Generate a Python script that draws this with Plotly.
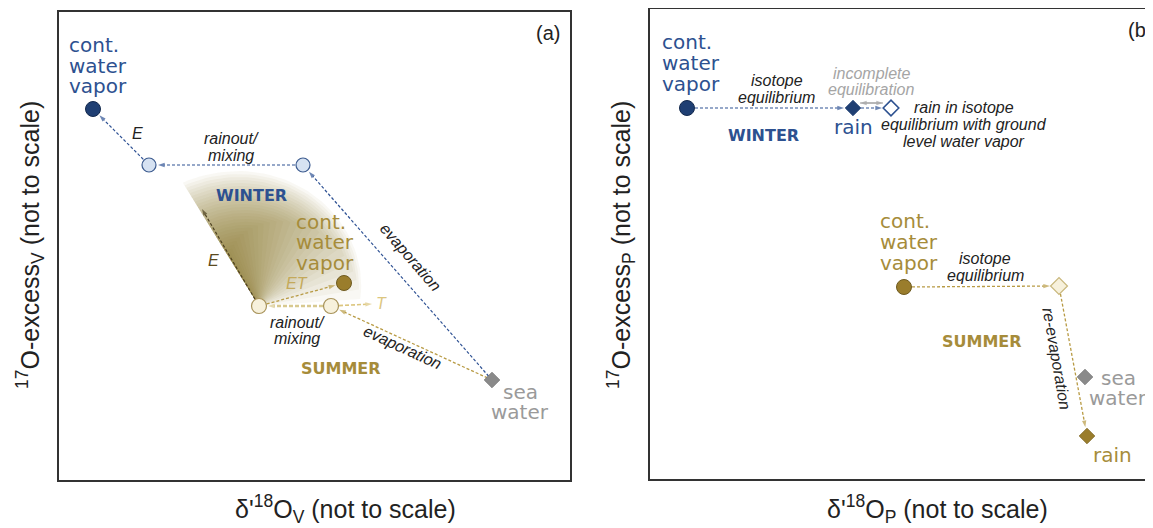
import numpy as np
import plotly.graph_objects as go

# the page puts the figure 8 px in from the window corner, so work in window px
OFF = 8
W, H = 1153 - OFF, 528 - OFF

# Colours
NAVY = "#1f3f73"
BLUE_TXT = "#2d5190"
LIGHT_BLUE = "#d6e2f2"
GOLD = "#9a7d2c"
GOLD_TXT = "#a68c3a"
CREAM = "#f7f1dc"
CREAM_EDGE = "#a8935a"
GRAY = "#8a8a8a"
GRAY_TXT = "#9a9a9a"
INK = "#222222"
ARIAL = "Liberation Sans"
VERDANA = "DejaVu Sans"

# ---- schematic positions (not to scale) ----
# panel (a): water vapour, d'18O_V (x) vs 17O-excess_V (y, drawn downwards in px)
A_NODE_NAMES = ["w_vapor", "w_mix", "w_evap", "sea", "s_vapor", "s_mix", "s_evap", "s_T", "s_E"]
A_NODE_X = [93, 149, 303, 492, 344, 259, 331, 372, 202]
A_NODE_Y = [109, 165, 165, 380, 283, 306, 306, 304, 209]
A_MARKED = {"w_vapor": "vapor_w", "w_mix": "mix_w", "w_evap": "mix_w", "sea": "sea",
            "s_vapor": "vapor_s", "s_mix": "mix_s", "s_evap": "mix_s"}
A_ARROWS = [("w_mix", "w_vapor", "winter"), ("w_evap", "w_mix", "winter"),
            ("sea", "w_evap", "winter"), ("sea", "s_evap", "summer"),
            ("s_evap", "s_mix", "rainout"), ("s_mix", "s_vapor", "summer"),
            ("s_evap", "s_T", "transp"), ("s_mix", "s_E", "evapo")]

# panel (b): precipitation, d'18O_P (x) vs 17O-excess_P (y)
B_NODE_NAMES = ["w_vapor", "w_rain", "w_rain_eq", "s_vapor", "s_rain_eq", "sea", "s_rain",
                "inc_l", "inc_r"]
B_NODE_X = [687, 853, 891, 904, 1059, 1085, 1087, 860, 883]
B_NODE_Y = [108, 108, 108, 287, 286, 377, 436, 103, 103]
B_MARKED = {"w_vapor": "vapor_w", "w_rain": "rain_w", "w_rain_eq": "raineq_w",
            "s_vapor": "vapor_s", "s_rain_eq": "raineq_s", "sea": "sea", "s_rain": "rain_s"}
B_ARROWS = [("w_vapor", "w_rain", "winter"), ("w_rain", "w_rain_eq", "winter"),
            ("s_vapor", "s_rain_eq", "summer"), ("s_rain_eq", "s_rain", "summer"),
            ("inc_l", "inc_r", "incomplete"), ("inc_r", "inc_l", "incomplete")]

MARKER_STYLE = {
    "vapor_w": dict(symbol="circle", size=15, color=NAVY, line=dict(color="#13294d", width=1)),
    "mix_w": dict(symbol="circle", size=14, color=LIGHT_BLUE, line=dict(color="#3c5b8f", width=1.2)),
    "sea": dict(symbol="diamond", size=12, color=GRAY, line=dict(color="#777777", width=0.8)),
    "vapor_s": dict(symbol="circle", size=15, color=GOLD, line=dict(color="#6e5a1f", width=1)),
    "mix_s": dict(symbol="circle", size=15, color=CREAM, line=dict(color=CREAM_EDGE, width=1.2)),
    "rain_w": dict(symbol="diamond", size=12, color=NAVY, line=dict(color=NAVY, width=0.8)),
    "raineq_w": dict(symbol="diamond", size=12, color="white", line=dict(color="#2d5190", width=1.6)),
    "raineq_s": dict(symbol="diamond", size=13, color=CREAM, line=dict(color="#c9b77c", width=1.2)),
    "rain_s": dict(symbol="diamond", size=12, color=GOLD, line=dict(color="#7d6622", width=0.8)),
}
ARROW_STYLE = {
    "winter": dict(color="#2f5294", width=1.2, dash="3px,2px"),
    "summer": dict(color="#b89b45", width=1.3, dash="3px,2px"),
    "rainout": dict(color="#d8c98f", width=2.4, dash="4px,2px"),
    "transp": dict(color="#dcc67f", width=1.6, dash="4px,2px"),
    "evapo": dict(color="#4d4020", width=1.2, dash="3px,2px"),
    "incomplete": dict(color="#a0a0a0", width=1.0, dash="solid"),
}

fig = go.Figure()


def px_x(x):
    return (x - OFF) / W


def px_y(y):
    return 1 - (y - OFF) / H


def add_shading(apex, toward, xa, ya, n=28):
    # fading wedge behind the summer E / rainout arrows
    x0, y0 = apex
    a_e = np.arctan2(toward[1] - y0, toward[0] - x0)
    a_r = np.deg2rad(-4)
    for i in range(n):
        f = i / n
        a_end = a_e + (a_r - a_e) * (1 - f) ** 1.3
        ang = np.linspace(a_e, a_end, 50)
        t = (ang - a_e) / (a_r - a_e)
        rad = 145 * (1 - 0.62 * f) * (1 - 0.3 * t)
        bx = np.concatenate([[x0], x0 + rad * np.cos(ang), [x0]])
        by = np.concatenate([[y0], y0 + rad * np.sin(ang), [y0]])
        fig.add_trace(go.Scatter(x=bx, y=by, mode="lines", fill="toself",
                                 fillcolor="rgba(135,108,32,0.05)", line=dict(width=0),
                                 xaxis=xa, yaxis=ya, hoverinfo="skip", showlegend=False))


def add_arrows(names, xs, ys, marked, arrows, xa, ya):
    pos = {n: (x, y) for n, x, y in zip(names, xs, ys)}
    for a, b, kind in arrows:
        (x0, y0), (x1, y1) = pos[a], pos[b]
        d = np.hypot(x1 - x0, y1 - y0)
        ux, uy = (x1 - x0) / d, (y1 - y0) / d
        g0 = 8 if a in marked else 0
        g1 = 9 if b in marked else 0
        if a == "sea":
            g0 = 5
        st = ARROW_STYLE[kind]
        fig.add_trace(go.Scatter(
            x=[x0 + ux * g0, x1 - ux * g1], y=[y0 + uy * g0, y1 - uy * g1],
            mode="lines+markers", line=dict(color=st["color"], width=st["width"], dash=st["dash"]),
            marker=dict(symbol=["circle", "arrow"], size=[0, 7], angleref="previous",
                        color=st["color"], line=dict(width=0)),
            xaxis=xa, yaxis=ya, hoverinfo="skip", showlegend=False, cliponaxis=False))


def add_markers(names, xs, ys, marked, xa, ya):
    pos = {n: (x, y) for n, x, y in zip(names, xs, ys)}
    for n, kind in marked.items():
        fig.add_trace(go.Scatter(x=[pos[n][0]], y=[pos[n][1]], mode="markers",
                                 marker=MARKER_STYLE[kind], xaxis=xa, yaxis=ya,
                                 hoverinfo="skip", showlegend=False, cliponaxis=False))


def label(text, x, y, size=16, color=INK, family=ARIAL, italic=False, bold=False,
          angle=0, anchor="center", spacing=None):
    spacing = spacing or size
    for i, line in enumerate(text.split("\n")):
        fig.add_annotation(x=px_x(x), y=px_y(y + i * spacing), xref="paper", yref="paper",
                           text=line, showarrow=False, xanchor=anchor, yanchor="middle",
                           textangle=angle,
                           font=dict(family=family, size=size, color=color,
                                     style="italic" if italic else "normal",
                                     weight="bold" if bold else "normal"))


a_pos = dict(zip(A_NODE_NAMES, zip(A_NODE_X, A_NODE_Y)))
add_shading(a_pos["s_mix"], (183, 183), "x", "y")
add_arrows(A_NODE_NAMES, A_NODE_X, A_NODE_Y, A_MARKED, A_ARROWS, "x", "y")
add_markers(A_NODE_NAMES, A_NODE_X, A_NODE_Y, A_MARKED, "x", "y")
add_arrows(B_NODE_NAMES, B_NODE_X, B_NODE_Y, B_MARKED, B_ARROWS, "x2", "y2")
add_markers(B_NODE_NAMES, B_NODE_X, B_NODE_Y, B_MARKED, "x2", "y2")

# panel (a) text
label("cont.\nwater\nvapor", 67, 45, size=20, color=BLUE_TXT, family=VERDANA, anchor="left", spacing=20.5)
label("E", 137, 133, italic=True)
label("rainout/\nmixing", 231, 138, italic=True, spacing=17)
label("WINTER", 251, 195, size=16, color=BLUE_TXT, family=VERDANA, bold=True)
label("evaporation", 411, 257, italic=True, angle=49)
label("cont.\nwater\nvapor", 294, 222, size=20, color=GOLD_TXT, family=VERDANA, anchor="left", spacing=20.5)
label("E", 213, 260, italic=True, color="#5a4a20")
label("ET", 297, 283, italic=True, color="#c4a95a")
label("T", 381, 303, italic=True, color="#dcc67f")
label("rainout/\nmixing", 297, 322, italic=True, spacing=16.5)
label("evaporation", 403, 347, italic=True, angle=24.7)
label("SUMMER", 341, 368, size=16, color=GOLD_TXT, family=VERDANA, bold=True)
label("sea\nwater", 520, 392, size=20, color=GRAY_TXT, family=VERDANA, spacing=20)
label("(a)", 548, 33, size=20)
label("<sup>17</sup>O-excess<sub>V</sub> (not to scale)", 30, 245, size=25, angle=-90)
label("δ'<sup>18</sup>O<sub>V</sub> (not to scale)", 345, 509, size=25)

# panel (b) text
label("cont.\nwater\nvapor", 660, 42, size=20, color=BLUE_TXT, family=VERDANA, anchor="left", spacing=21)
label("isotope\nequilibrium", 777, 81, italic=True, spacing=16)
label("incomplete\nequilibration", 871, 73, italic=True, color="#a5a5a5", spacing=16)
label("rain", 853, 127, size=20, color=BLUE_TXT, family=VERDANA)
label("rain in isotope\nequilibrium with ground\nlevel water vapor", 964, 108, italic=True, spacing=16.5)
label("WINTER", 763, 135, size=16, color=BLUE_TXT, family=VERDANA, bold=True)
label("cont.\nwater\nvapor", 878, 221, size=20, color=GOLD_TXT, family=VERDANA, anchor="left", spacing=21)
label("isotope\nequilibrium", 985, 258, italic=True, spacing=17)
label("re-evaporation", 1057, 358, italic=True, angle=80)
label("SUMMER", 982, 341, size=16, color=GOLD_TXT, family=VERDANA, bold=True)
label("sea\nwater", 1118, 378, size=20, color=GRAY_TXT, family=VERDANA, spacing=20)
label("rain", 1112, 455, size=20, color=GOLD_TXT, family=VERDANA)
label("(b)", 1140, 30, size=20)
label("<sup>17</sup>O-excess<sub>P</sub> (not to scale)", 621, 245, size=25, angle=-90)
label("δ'<sup>18</sup>O<sub>P</sub> (not to scale)", 937, 509, size=25)

# panel frames (panel b runs off the right edge)
fig.add_shape(type="rect", xref="paper", yref="paper", x0=px_x(58), x1=px_x(571),
              y0=px_y(481), y1=px_y(11), line=dict(color="#333333", width=2))
fig.add_shape(type="rect", xref="paper", yref="paper", x0=px_x(649), x1=1.02,
              y0=px_y(480), y1=px_y(8), line=dict(color="#333333", width=2))

fig.update_layout(
    width=W, height=H, margin=dict(l=0, r=0, t=0, b=0),
    paper_bgcolor="white", plot_bgcolor="white", showlegend=False,
    xaxis=dict(domain=[px_x(58), px_x(571)], range=[58, 571], visible=False),
    yaxis=dict(domain=[px_y(481), px_y(11)], range=[481, 11], visible=False),
    xaxis2=dict(domain=[px_x(649), 1], range=[649, 1153], visible=False, anchor="y2"),
    yaxis2=dict(domain=[px_y(480), px_y(8)], range=[480, 8], visible=False, anchor="x2"),
)

fig.write_html("out.html")
